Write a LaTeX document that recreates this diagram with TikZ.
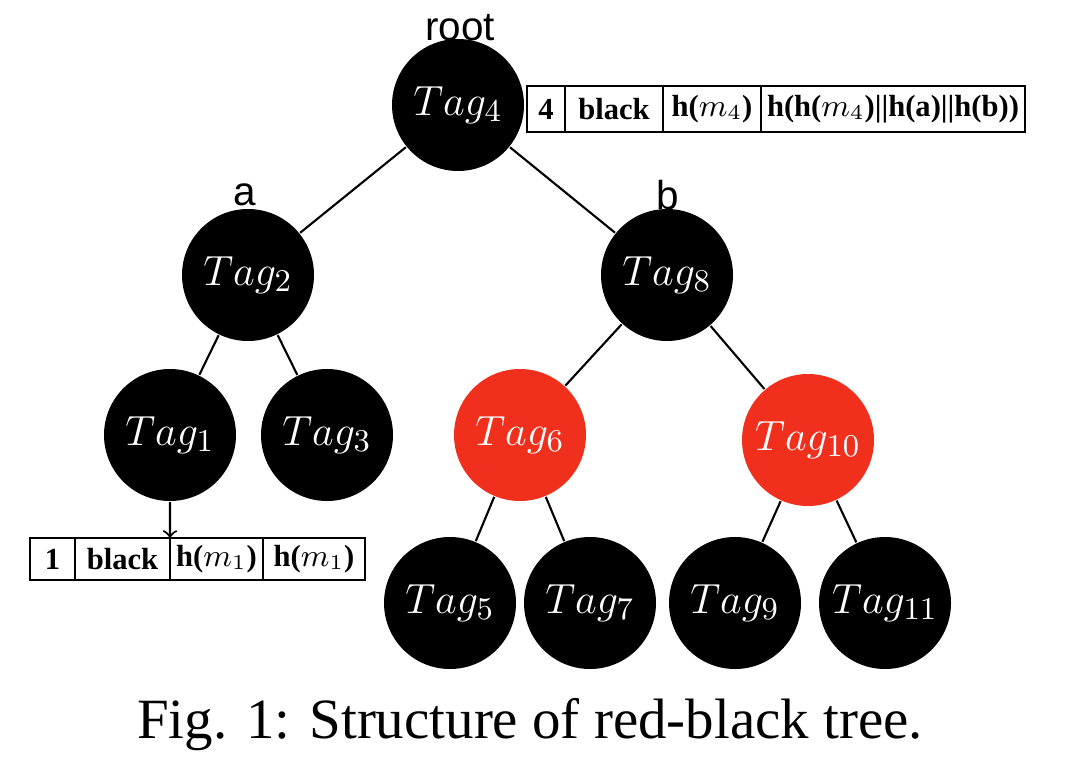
\documentclass[tikz,border=0pt]{standalone}
\usepackage{fontspec}
\setmainfont{Liberation Serif}
\newfontfamily\labelfont{Liberation Sans}
\usetikzlibrary{positioning}

\definecolor{rbred}{RGB}{240,48,28}

\tikzset{
  blacknode/.style={circle, fill=black, text=white, minimum size=1.32cm, inner sep=0pt,
    font=\fontsize{13}{15}\selectfont},
  rednode/.style={blacknode, fill=rbred},
  topcell/.style={draw, rectangle, inner sep=0pt, outer sep=0pt, minimum height=0.46cm,
    line width=0.5pt, font=\bfseries\fontsize{8.7}{10}\selectfont},
  lowcell/.style={topcell, minimum height=0.42cm},
  sidelabel/.style={font=\labelfont\fontsize{11.5}{13}\selectfont},
}

\begin{document}
\begin{tikzpicture}[line width=0.6pt]
  \useasboundingbox (0,0) rectangle (10.8,-7.68);

  % Draw the tree nodes
  \node[blacknode] (tag4) at (4.58,-1.05) {$Tag_4$};
  \node[blacknode] (tag2) at (2.48,-2.75) {$Tag_2$};
  \node[blacknode] (tag8) at (6.67,-2.75) {$Tag_8$};
  \node[blacknode] (tag1) at (1.70,-4.35) {$Tag_1$};
  \node[blacknode] (tag3) at (3.27,-4.35) {$Tag_3$};
  \node[rednode]   (tag6) at (5.20,-4.35) {$Tag_6$};
  \node[rednode]   (tag10) at (8.08,-4.40) {$Tag_{10}$};
  \node[blacknode] (tag5) at (4.50,-6.03) {$Tag_5$};
  \node[blacknode] (tag7) at (5.90,-6.03) {$Tag_7$};
  \node[blacknode] (tag9) at (7.35,-6.03) {$Tag_9$};
  \node[blacknode] (tag11) at (8.85,-6.03) {$Tag_{11}$};

  % Draw the edges
  \draw (tag4) -- (tag2);
  \draw (tag4) -- (tag8);
  \draw (tag2) -- (tag1);
  \draw (tag2) -- (tag3);
  \draw (tag8) -- (tag6);
  \draw (tag8) -- (tag10);
  \draw (tag6) -- (tag5);
  \draw (tag6) -- (tag7);
  \draw (tag10) -- (tag9);
  \draw (tag10) -- (tag11);

  % Labels of root and children
  \node[sidelabel] (rootlabel) at (4.60,-0.28) {root};
  \node[sidelabel] (alabel) at (2.45,-1.95) {a};
  \node[sidelabel] (blabel) at (6.68,-1.95) {b};

  % Record of the root
  \node[topcell, minimum width=0.38cm, anchor=west] (rootA) at (5.27,-1.09) {4};
  \node[topcell, minimum width=0.98cm, right=0pt of rootA] (rootB) {black};
  \node[topcell, minimum width=0.98cm, right=0pt of rootB] (rootC) {h($m_4$)};
  \node[topcell, minimum width=2.64cm, right=0pt of rootC] (rootD) {h(h($m_4$)||h(a)||h(b))};

  % Record of the leaf
  \node[lowcell, minimum width=0.45cm, anchor=west] (leafA) at (0.30,-5.59) {1};
  \node[lowcell, minimum width=0.95cm, right=0pt of leafA] (leafB) {black};
  \node[lowcell, minimum width=0.93cm, right=0pt of leafB] (leafC) {h($m_1$)};
  \node[lowcell, minimum width=1.02cm, right=0pt of leafC] (leafD) {h($m_1$)};
  \draw[->] (tag1) -- (leafB.north east);

  % Caption
  \node[font=\fontsize{16.2}{18}\selectfont] (caption) at (5.30,-7.25) {Fig. 1: Structure of red-black tree.};
\end{tikzpicture}
\end{document}
